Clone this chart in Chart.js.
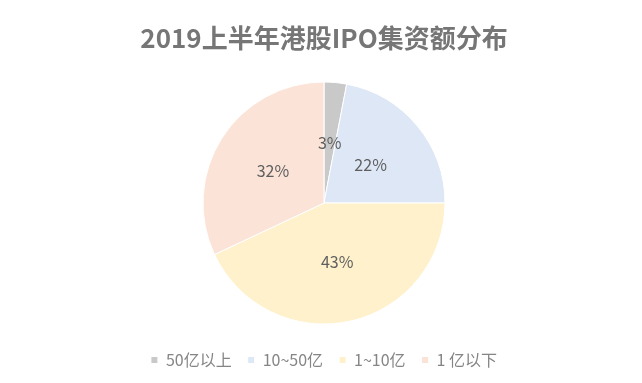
<!DOCTYPE html>
<html><head><meta charset="utf-8">
<script src="https://cdn.jsdelivr.net/npm/chart.js@4.4.1/dist/chart.umd.min.js"></script>
<style>html,body{margin:0;padding:0;background:#fff;}#wrap{width:642px;height:383px;}</style>
</head><body><div id="wrap"><canvas id="c" width="642" height="383"></canvas></div>
<script>
const titleText = '2019上半年港股IPO集资额分布';
const categories = ['50亿以上', '10~50亿', '1~10亿', '1 亿以下'];
const shares = [3, 22, 43, 32];
const colors = ['#c9c9c9', '#dde7f5', '#fff1cc', '#fbe3d7'];

const pctLabels = {
  id: 'pctLabels',
  afterDatasetsDraw(chart) {
    const ctx = chart.ctx;
    const meta = chart.getDatasetMeta(0);
    ctx.save();
    ctx.font = '16px "Noto Sans CJK SC", "Noto Sans", sans-serif';
    ctx.fillStyle = '#5f5f5f';
    ctx.textAlign = 'center';
    ctx.textBaseline = 'middle';
    meta.data.forEach((arc, i) => {
      const p = arc.tooltipPosition();
      ctx.fillText(shares[i] + '%', p.x, p.y);
    });
    ctx.restore();
  }
};

new Chart(document.getElementById('c'), {
  type: 'pie',
  data: {
    labels: categories,
    datasets: [{
      data: shares,
      backgroundColor: colors,
      borderColor: '#ffffff',
      borderWidth: 1,
      radius: 121
    }]
  },
  options: {
    responsive: false,
    animation: false,
    events: [],
    layout: { padding: { left: 6, right: 0, top: 0, bottom: 5 } },
    plugins: {
      title: {
        display: true,
        text: titleText,
        color: '#767676',
        font: { family: '"Noto Sans CJK SC", "Noto Sans", sans-serif', size: 26, weight: 'bold', lineHeight: 1.2 },
        padding: { top: 22.4, bottom: 16.4 }
      },
      legend: {
        position: 'bottom',
        labels: {
          boxWidth: 7,
          boxHeight: 7,
          padding: 16,
          color: '#858585',
          font: { family: '"Noto Sans CJK SC", "Noto Sans", sans-serif', size: 16 }
        }
      },
      tooltip: { enabled: false }
    }
  },
  plugins: [pctLabels]
});
</script></body></html>
